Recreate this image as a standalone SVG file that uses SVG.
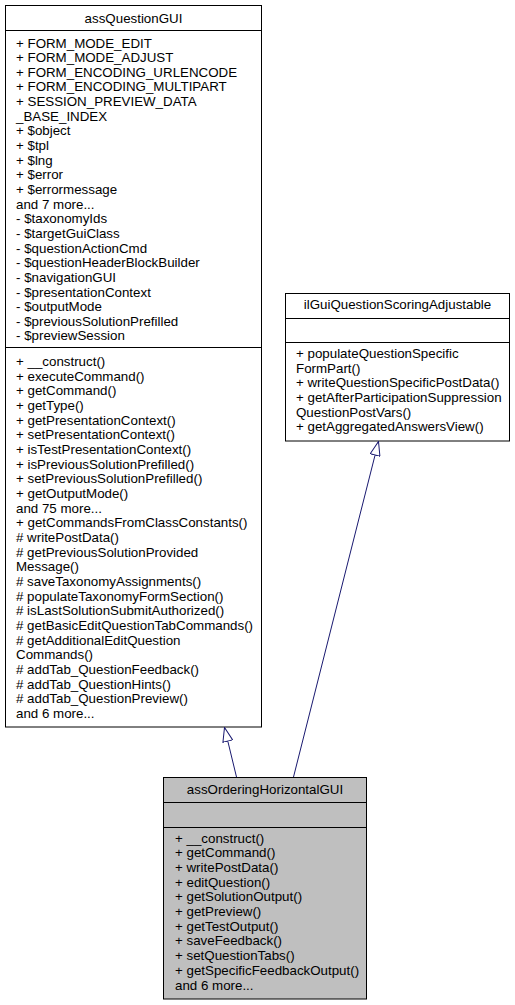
<svg xmlns="http://www.w3.org/2000/svg" width="515" height="1005" viewBox="0 0 515 1005">
<style>
text{font-family:"Liberation Sans",Arial,Helvetica,sans-serif;font-size:13.33px;fill:#000}
.t{text-anchor:middle}
.box{fill:#fff;stroke:#000;stroke-width:1}
.cur{fill:#bfbfbf;stroke:#000;stroke-width:1}
.sep{stroke:#000;stroke-width:1}
.edge{fill:none;stroke:#191970;stroke-width:1}
</style>
<defs>
<marker id="inh" viewBox="0 0 15 11" refX="14.5" refY="5.5" markerWidth="15" markerHeight="11" markerUnits="userSpaceOnUse" orient="auto">
<path d="M0.5,0.5 L14.5,5.5 L0.5,10.5 Z" fill="#fff" stroke="#191970" stroke-width="1"/>
</marker>
</defs>
<rect width="515" height="1005" fill="#fff"/>
<g id="node-assQuestionGUI">
<rect class="box" x="5.5" y="5.5" width="256" height="721.5"/>
<line class="sep" x1="5.5" y1="30.5" x2="261.5" y2="30.5"/>
<line class="sep" x1="5.5" y1="347.5" x2="261.5" y2="347.5"/>
<text class="t" x="133.5" y="22.5">assQuestionGUI</text>
<text x="16" y="47.5"><tspan x="16">+ FORM_MODE_EDIT</tspan><tspan x="16" dy="14.65">+ FORM_MODE_ADJUST</tspan><tspan x="16" dy="14.65">+ FORM_ENCODING_URLENCODE</tspan><tspan x="16" dy="14.65">+ FORM_ENCODING_MULTIPART</tspan><tspan x="16" dy="14.65">+ SESSION_PREVIEW_DATA</tspan><tspan x="16" dy="14.65">_BASE_INDEX</tspan><tspan x="16" dy="14.65">+ $object</tspan><tspan x="16" dy="14.65">+ $tpl</tspan><tspan x="16" dy="14.65">+ $lng</tspan><tspan x="16" dy="14.65">+ $error</tspan><tspan x="16" dy="14.65">+ $errormessage</tspan><tspan x="16" dy="14.65">and 7 more...</tspan><tspan x="16" dy="14.65">- $taxonomyIds</tspan><tspan x="16" dy="14.65">- $targetGuiClass</tspan><tspan x="16" dy="14.65">- $questionActionCmd</tspan><tspan x="16" dy="14.65">- $questionHeaderBlockBuilder</tspan><tspan x="16" dy="14.65">- $navigationGUI</tspan><tspan x="16" dy="14.65">- $presentationContext</tspan><tspan x="16" dy="14.65">- $outputMode</tspan><tspan x="16" dy="14.65">- $previousSolutionPrefilled</tspan><tspan x="16" dy="14.65">- $previewSession</tspan></text>
<text x="16" y="366"><tspan x="16">+ __construct()</tspan><tspan x="16" dy="14.67">+ executeCommand()</tspan><tspan x="16" dy="14.67">+ getCommand()</tspan><tspan x="16" dy="14.67">+ getType()</tspan><tspan x="16" dy="14.67">+ getPresentationContext()</tspan><tspan x="16" dy="14.67">+ setPresentationContext()</tspan><tspan x="16" dy="14.67">+ isTestPresentationContext()</tspan><tspan x="16" dy="14.67">+ isPreviousSolutionPrefilled()</tspan><tspan x="16" dy="14.67">+ setPreviousSolutionPrefilled()</tspan><tspan x="16" dy="14.67">+ getOutputMode()</tspan><tspan x="16" dy="14.67">and 75 more...</tspan><tspan x="16" dy="14.67">+ getCommandsFromClassConstants()</tspan><tspan x="16" dy="14.67"># writePostData()</tspan><tspan x="16" dy="14.67"># getPreviousSolutionProvided</tspan><tspan x="16" dy="14.67">Message()</tspan><tspan x="16" dy="14.67"># saveTaxonomyAssignments()</tspan><tspan x="16" dy="14.67"># populateTaxonomyFormSection()</tspan><tspan x="16" dy="14.67"># isLastSolutionSubmitAuthorized()</tspan><tspan x="16" dy="14.67"># getBasicEditQuestionTabCommands()</tspan><tspan x="16" dy="14.67"># getAdditionalEditQuestion</tspan><tspan x="16" dy="14.67">Commands()</tspan><tspan x="16" dy="14.67"># addTab_QuestionFeedback()</tspan><tspan x="16" dy="14.67"># addTab_QuestionHints()</tspan><tspan x="16" dy="14.67"># addTab_QuestionPreview()</tspan><tspan x="16" dy="14.67">and 6 more...</tspan></text>
</g>
<g id="node-ilGuiQuestionScoringAdjustable">
<rect class="box" x="285.5" y="293.5" width="224" height="147.5"/>
<line class="sep" x1="285.5" y1="318.5" x2="509.5" y2="318.5"/>
<line class="sep" x1="285.5" y1="342.5" x2="509.5" y2="342.5"/>
<text class="t" x="397.5" y="308.5">ilGuiQuestionScoringAdjustable</text>
<text x="296" y="358"><tspan x="296">+ populateQuestionSpecific</tspan><tspan x="296" dy="14.65">FormPart()</tspan><tspan x="296" dy="14.65">+ writeQuestionSpecificPostData()</tspan><tspan x="296" dy="14.65">+ getAfterParticipationSuppression</tspan><tspan x="296" dy="14.65">QuestionPostVars()</tspan><tspan x="296" dy="14.65">+ getAggregatedAnswersView()</tspan></text>
</g>
<g id="node-assOrderingHorizontalGUI">
<rect class="cur" x="163.5" y="777.5" width="203" height="221.5"/>
<line class="sep" x1="163.5" y1="802.5" x2="366.5" y2="802.5"/>
<line class="sep" x1="163.5" y1="827.5" x2="366.5" y2="827.5"/>
<text class="t" x="265" y="793.5">assOrderingHorizontalGUI</text>
<text x="175" y="842.5"><tspan x="175">+ __construct()</tspan><tspan x="175" dy="14.7">+ getCommand()</tspan><tspan x="175" dy="14.7">+ writePostData()</tspan><tspan x="175" dy="14.7">+ editQuestion()</tspan><tspan x="175" dy="14.7">+ getSolutionOutput()</tspan><tspan x="175" dy="14.7">+ getPreview()</tspan><tspan x="175" dy="14.7">+ getTestOutput()</tspan><tspan x="175" dy="14.7">+ saveFeedback()</tspan><tspan x="175" dy="14.7">+ setQuestionTabs()</tspan><tspan x="175" dy="14.7">+ getSpecificFeedbackOutput()</tspan><tspan x="175" dy="14.7">and 6 more...</tspan></text>
</g>
<g id="connectors">
<path class="edge" d="M236.5,777 L224.5,727.5" marker-end="url(#inh)"/>
<path class="edge" d="M293.5,777 L378.5,441.5" marker-end="url(#inh)"/>
</g>
</svg>
